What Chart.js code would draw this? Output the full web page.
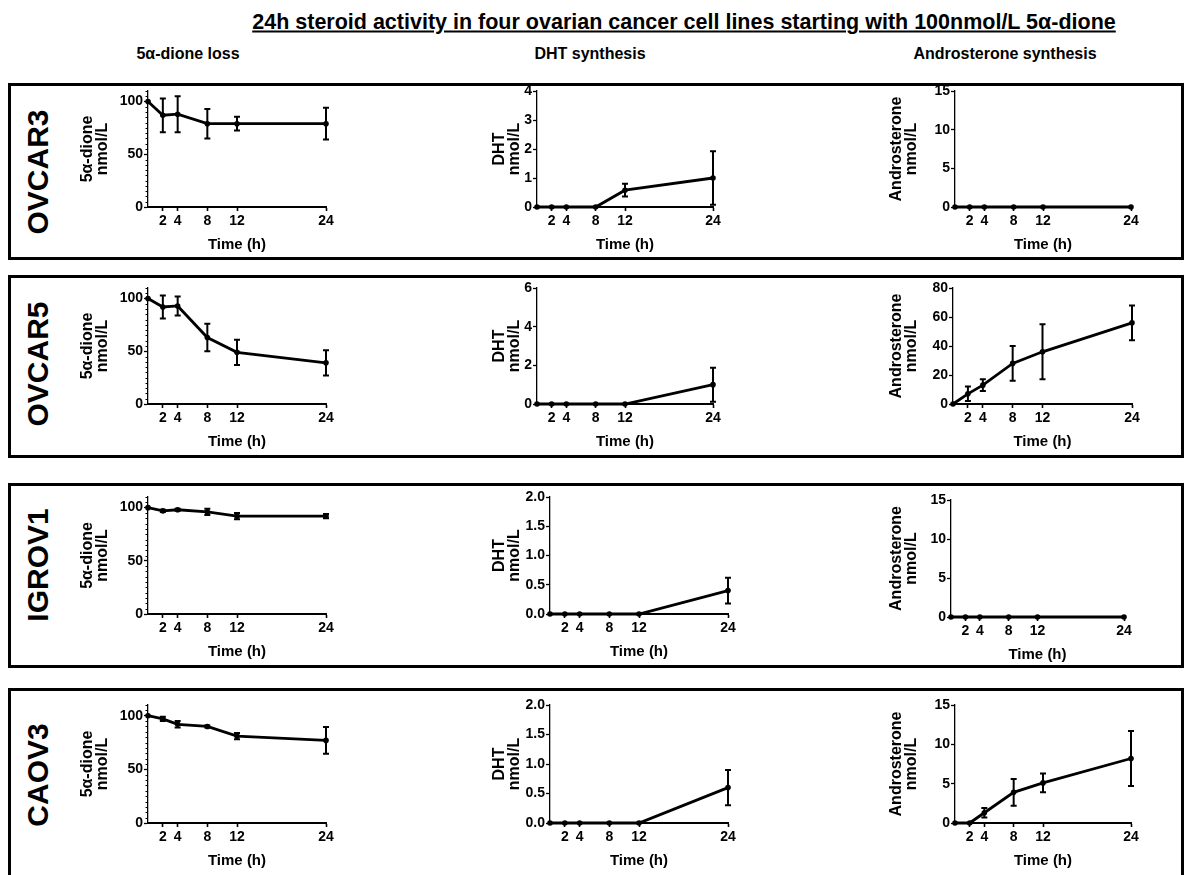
<!DOCTYPE html>
<html>
<head>
<meta charset="utf-8">
<script src="https://cdn.jsdelivr.net/npm/chart.js@4.4.1/dist/chart.umd.min.js"></script>
<style>
  body { margin: 0; background: #fff; }
  #page { position: relative; width: 1188px; height: 875px; overflow: hidden; background: #fff;
          font-family: "Liberation Sans", Arial, sans-serif; font-weight: bold; color: #000; }
  .txt { position: absolute; white-space: nowrap; transform: translate(-50%, -50%); }
  .rot { position: absolute; white-space: nowrap; transform: translate(-50%, -50%) rotate(-90deg); }
  .box { position: absolute; box-sizing: border-box; border: 3px solid #000; }
  canvas { position: absolute; }
</style>
</head>
<body>
<div id="page"></div>
<script>
// sampling times and x tick labels
const timeH = [0, 2, 4, 8, 12, 24];
const timeTicks = [2, 4, 8, 12, 24];

const cellLines = ['OVCAR3', 'OVCAR5', 'IGROV1', 'CAOV3'];
const columnTitles = ['5α-dione loss', 'DHT synthesis', 'Androsterone synthesis'];
const yTitles = [['5α-dione', 'nmol/L'], ['DHT', 'nmol/L'], ['Androsterone', 'nmol/L']];

// 5α-dione remaining (nmol/L), one row per cell line
const dioneMean = [
  [100, 87, 88, 79, 79, 79],
  [100, 92, 93, 63, 49, 39],
  [100, 97, 98, 96, 92, 92],
  [100, 97, 92, 90, 81, 77]
];
const dioneSd = [
  [0, 16, 17, 14, 6.5, 15],
  [0, 11, 9, 13, 12, 12],
  [0, 1, 1, 3, 3, 2],
  [0, 2, 3, 1, 3, 12.5]
];

// DHT formed (nmol/L)
const dhtMean = [
  [0, 0, 0, 0, 0.58, 1.0],
  [0, 0, 0, 0, 0, 1.0],
  [0, 0, 0, 0, 0, 0.4],
  [0, 0, 0, 0, 0, 0.6]
];
const dhtSd = [
  [0, 0, 0, 0, 0.22, 0.92],
  [0, 0, 0, 0, 0, 0.88],
  [0, 0, 0, 0, 0, 0.22],
  [0, 0, 0, 0, 0, 0.3]
];

// androsterone formed (nmol/L)
const androMean = [
  [0, 0, 0, 0, 0, 0],
  [0, 7, 13, 28, 36, 56],
  [0, 0, 0, 0, 0, 0],
  [0, 0, 1.3, 3.9, 5.1, 8.2]
];
const androSd = [
  [0, 0, 0, 0, 0, 0],
  [0, 5, 4, 12, 19, 12],
  [0, 0, 0, 0, 0, 0],
  [0, 0, 0.6, 1.7, 1.2, 3.5]
];

// y tick labels
const dioneTicks = [0, 50, 100];
const dioneAxisMax = 110;
const dhtTicks = [[0, 1, 2, 3, 4], [0, 2, 4, 6], [0, 0.5, 1, 1.5, 2], [0, 0.5, 1, 1.5, 2]];
const androTicks = [[0, 5, 10, 15], [0, 20, 40, 60, 80], [0, 5, 10, 15], [0, 5, 10, 15]];

// ---- layout (pixels) ----
const FONT = '"Liberation Sans", Arial, sans-serif';
const rowBox = [[83, 260], [275, 458], [483, 668], [688, 900]];
const rowArea = [[91, 207], [288, 404], [497, 614], [705, 823]];
const rowLabelY = [172, 364, 565, 775];
// [axis x, x=24 pixel, first title line x, vertical shift]
const colGeo = [
  [[148, 326, 88, 0], [537, 713, 500, 0], [955, 1131, 897, 0]],
  [[148, 326, 88, 0], [537, 713, 500, 0], [953, 1132, 897, 0]],
  [[148, 326, 88, 0], [550, 728, 500, 0], [951, 1124, 897, 3]],
  [[148, 326, 88, 0], [550, 728, 500, 0], [955, 1131, 897, 0]]
];
const headerX = [188, 590, 1005];

const page = document.getElementById('page');
function addText(cls, text, x, y, size, extra) {
  const d = document.createElement('div');
  d.className = cls;
  d.textContent = text;
  d.style.left = x + 'px';
  d.style.top = y + 'px';
  d.style.fontSize = size + 'px';
  if (extra) Object.assign(d.style, extra);
  page.appendChild(d);
}

addText('txt', '24h steroid activity in four ovarian cancer cell lines starting with 100nmol/L 5α-dione',
  684, 22, 21.5, { textDecoration: 'underline' });
columnTitles.forEach((t, i) => addText('txt', t, headerX[i], 54, 16));

rowBox.forEach(([t, b]) => {
  const d = document.createElement('div');
  d.className = 'box';
  d.style.left = '8px';
  d.style.width = '1176px';
  d.style.top = t + 'px';
  d.style.height = (b - t) + 'px';
  page.appendChild(d);
});
cellLines.forEach((name, i) => addText('rot', name, 38, rowLabelY[i], 30));

const errorBars = {
  id: 'errorBars',
  afterDatasetsDraw(chart) {
    const { ctx, scales: { x, y } } = chart;
    const ds = chart.data.datasets[0];
    ctx.save();
    ctx.strokeStyle = '#000';
    ctx.lineWidth = 2;
    ds.data.forEach((p, i) => {
      const e = ds.errors[i];
      if (!e) return;
      const px = x.getPixelForValue(p.x);
      const hi = y.getPixelForValue(p.y + e);
      const lo = y.getPixelForValue(p.y - e);
      ctx.beginPath();
      ctx.moveTo(px, hi); ctx.lineTo(px, lo);
      ctx.moveTo(px - 3, hi); ctx.lineTo(px + 3, hi);
      ctx.moveTo(px - 3, lo); ctx.lineTo(px + 3, lo);
      ctx.stroke();
    });
    ctx.restore();
  }
};

const minorTicks = {
  id: 'minorTicks',
  afterDraw(chart) {
    const { ctx, scales: { y } } = chart;
    ctx.save();
    ctx.strokeStyle = '#000';
    ctx.lineWidth = 1;
    ctx.beginPath();
    for (let v = 5; v <= dioneAxisMax; v += 5) {
      if (v % 50 === 0) continue;
      const py = Math.round(y.getPixelForValue(v)) + 0.5;
      ctx.moveTo(y.right - 2.5, py);
      ctx.lineTo(y.right, py);
    }
    ctx.stroke();
    ctx.restore();
  }
};

const YW = 80, XH = 52, PADT = 10, PADR = 14;

function makeChart(r, c) {
  const [ax, ar, t1, shift] = colGeo[r][c];
  const top = rowArea[r][0] + shift, bottom = rowArea[r][1] + shift;
  const means = [dioneMean, dhtMean, androMean][c][r];
  const sds = [dioneSd, dhtSd, androSd][c][r];
  const ticks = [dioneTicks, dhtTicks[r], androTicks[r]][c];
  const yMax = c === 0 ? dioneAxisMax : ticks[ticks.length - 1];
  const decimals = (c === 1 && r >= 2) ? 1 : 0;

  const cv = document.createElement('canvas');
  const w = YW + (ar - ax) + PADR, h = PADT + (bottom - top) + XH;
  cv.width = w; cv.height = h;
  cv.style.width = w + 'px'; cv.style.height = h + 'px';
  cv.style.left = (ax - YW) + 'px';
  cv.style.top = (top - PADT) + 'px';
  page.appendChild(cv);

  const titleLH = 14.5;
  const titlePad = t1 - (ax - YW) - titleLH / 2;

  new Chart(cv, {
    type: 'line',
    data: {
      datasets: [{
        data: timeH.map((t, i) => ({ x: t, y: means[i] })),
        errors: sds,
        borderColor: '#000',
        borderWidth: 2.8,
        pointRadius: 2.8,
        pointBackgroundColor: '#000',
        pointBorderWidth: 0,
        tension: 0,
        clip: false
      }]
    },
    options: {
      responsive: false,
      animation: false,
      devicePixelRatio: 1,
      layout: { padding: { top: PADT, right: PADR, left: 0, bottom: 0 } },
      plugins: { legend: { display: false }, tooltip: { enabled: false } },
      scales: {
        x: {
          type: 'linear', min: 0, max: 24,
          afterBuildTicks: s => { s.ticks = timeTicks.map(v => ({ value: v })); },
          afterFit: s => { s.height = XH; },
          border: { color: '#000', width: 2 },
          grid: { drawOnChartArea: false, tickLength: 4, tickWidth: 1.6, tickColor: '#000' },
          ticks: { color: '#000', font: { family: FONT, size: 14, weight: 'bold' }, padding: 2, maxRotation: 0, autoSkip: false },
          title: { display: true, text: 'Time (h)', color: '#000',
                   font: { family: FONT, size: 15, weight: 'bold', lineHeight: 1.15 },
                   padding: { top: 0, bottom: 6 } }
        },
        y: {
          type: 'linear', min: 0, max: yMax,
          afterBuildTicks: s => { s.ticks = ticks.map(v => ({ value: v })); },
          afterFit: s => { s.width = YW; },
          border: { color: '#000', width: 1.3 },
          grid: { drawOnChartArea: false, tickLength: 4, tickWidth: 1.3, tickColor: '#000' },
          ticks: { color: '#000', font: { family: FONT, size: 14, weight: 'bold' }, padding: 1, autoSkip: false,
                   callback: v => Number(v).toFixed(decimals) },
          title: { display: true, text: yTitles[c], color: '#000',
                   font: { family: FONT, size: 16, weight: 'bold', lineHeight: titleLH / 16 },
                   padding: { top: titlePad, bottom: 0 } }
        }
      }
    },
    plugins: c === 0 ? [errorBars, minorTicks] : [errorBars]
  });
}

for (let r = 0; r < 4; r++) for (let c = 0; c < 3; c++) makeChart(r, c);
</script>
</body>
</html>
